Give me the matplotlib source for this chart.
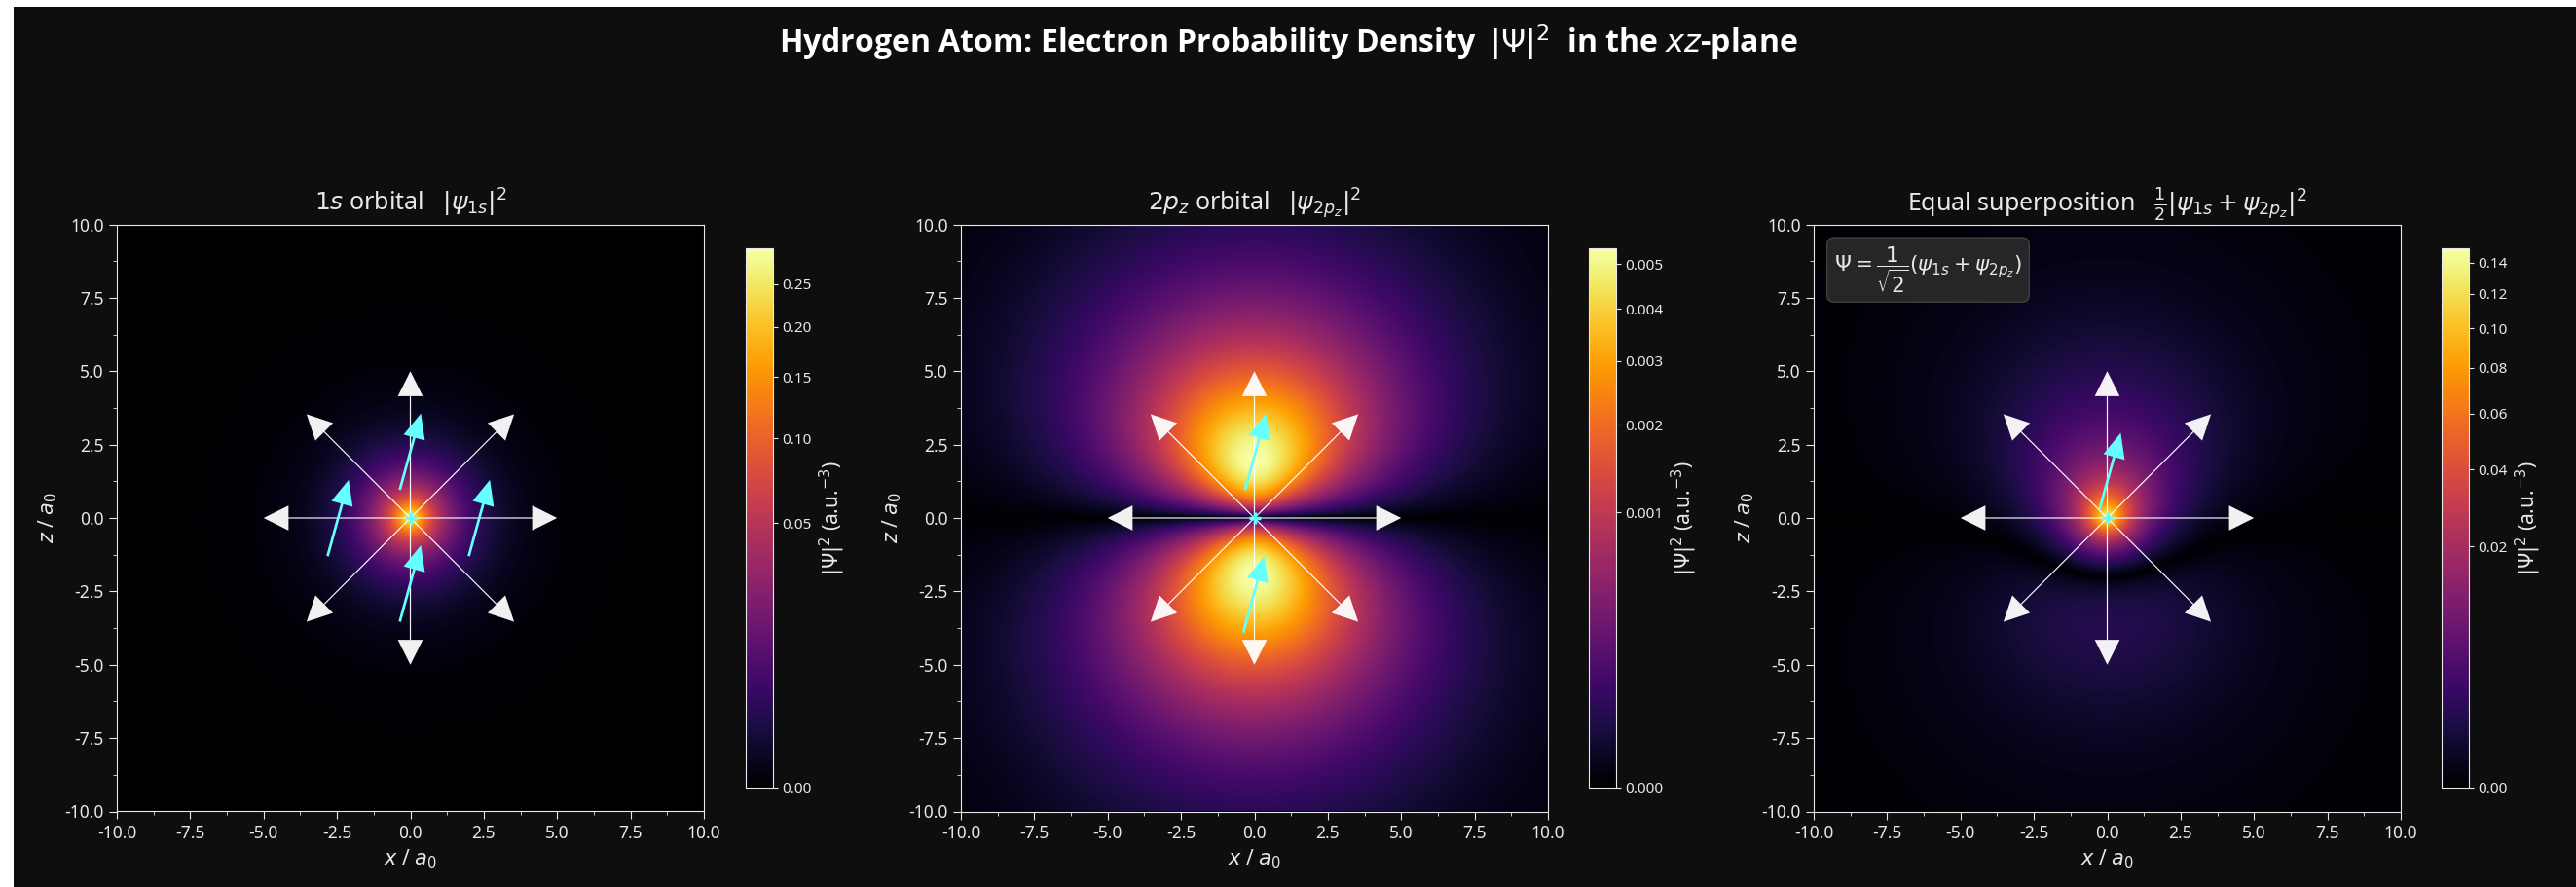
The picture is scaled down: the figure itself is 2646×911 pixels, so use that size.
import numpy as np
import matplotlib
matplotlib.use("Agg")
import matplotlib.pyplot as plt
from matplotlib.colors import PowerNorm
from matplotlib.ticker import MultipleLocator, AutoMinorLocator
from matplotlib.patches import Rectangle

plt.rcParams['font.family'] = ['Noto Sans', 'DejaVu Sans']
plt.rcParams['axes.unicode_minus'] = False

# grid in Bohr radii (xz-plane, y = 0)
extent = [-10.0, 10.0, -10.0, 10.0]
n_grid = 400

# radial "direction" arrows drawn from the nucleus
arrow_angles_deg = [0, 45, 90, 135, 180, 225, 270, 315]
arrow_length = 5.0

# cyan arrows: centres per panel and the common vector
cyan_1s = [(0.0, 2.26), (-2.46, 0.0), (2.35, 0.0), (0.0, -2.23)]
cyan_2pz = [(0.04, 2.25), (-0.02, -2.6)]
cyan_sup = [(0.1, 1.6)]
cyan_vec = (0.72, 2.6)

titles = [r'$1s$ orbital   $|\psi_{1s}|^2$',
          r'$2p_z$ orbital   $|\psi_{2p_z}|^2$',
          r'Equal superposition   $\frac{1}{2}|\psi_{1s} + \psi_{2p_z}|^2$']
gamma = 0.4

# wavefunctions (atomic units)
x = np.linspace(extent[0], extent[1], n_grid)
z = np.linspace(extent[2], extent[3], n_grid)
X, Z = np.meshgrid(x, z)
R = np.sqrt(X**2 + Z**2)
psi_1s = np.exp(-R) / np.sqrt(np.pi)
psi_2pz = Z * np.exp(-R / 2) / (4 * np.sqrt(2 * np.pi))
dens = [psi_1s**2, psi_2pz**2, 0.5 * (psi_1s + psi_2pz)**2]
cyan_sets = [cyan_1s, cyan_2pz, cyan_sup]

bg = '#0e0e0e'
fg = '#e8e8e8'
W, H = 2646, 911
fig = plt.figure(figsize=(W / 100, H / 100), dpi=100, facecolor='white')
fig.patches.append(Rectangle((14 / W, 0), 1, 1 - 7 / H, transform=fig.transFigure,
                             facecolor=bg, edgecolor='none', zorder=-10))

ax_left = [120, 987, 1863]
cb_left = [766, 1632, 2508]

for i in range(3):
    ax = fig.add_axes([ax_left[i] / W, 77 / H, 603 / W, 604 / H])
    cax = fig.add_axes([cb_left[i] / W, 102 / H, 28 / W, 554 / H])
    ax.set_facecolor('black')
    im = ax.imshow(dens[i], extent=extent, origin='lower', cmap='inferno',
                   norm=PowerNorm(gamma, vmin=0, vmax=dens[i].max()),
                   interpolation='bilinear')

    for a in arrow_angles_deg:
        t = np.deg2rad(a)
        ax.arrow(0, 0, arrow_length * np.cos(t), arrow_length * np.sin(t),
                 width=0.04, head_width=0.85, head_length=0.85,
                 length_includes_head=True, fc='white', ec='none', alpha=0.95, zorder=3)

    for cx, cz in cyan_sets[i]:
        ax.arrow(cx - cyan_vec[0] / 2, cz - cyan_vec[1] / 2, cyan_vec[0], cyan_vec[1],
                 width=0.09, head_width=0.75, head_length=0.85,
                 length_includes_head=True, fc='#66ffff', ec='none', zorder=4)
    ax.plot(0, 0, marker='+', color='#66ffff', ms=9, mew=2.5, zorder=5)

    ax.set_xlim(extent[0], extent[1])
    ax.set_ylim(extent[2], extent[3])
    ax.xaxis.set_major_locator(MultipleLocator(2.5))
    ax.yaxis.set_major_locator(MultipleLocator(2.5))
    ax.xaxis.set_minor_locator(AutoMinorLocator(2))
    ax.yaxis.set_minor_locator(AutoMinorLocator(2))
    ax.tick_params(colors=fg, labelsize=12.5, which='both')
    ax.tick_params(which='major', length=6)
    ax.tick_params(which='minor', length=3)
    for s in ax.spines.values():
        s.set_color(fg)
    ax.set_xlabel(r'$x$ / $a_0$', color=fg, fontsize=15)
    ax.set_ylabel(r'$z$ / $a_0$', color=fg, fontsize=15)
    ax.set_title(titles[i], color=fg, fontsize=18, pad=10)

    cb = fig.colorbar(im, cax=cax)
    cb.outline.set_edgecolor(fg)
    cb.ax.tick_params(colors=fg, labelsize=11)
    cb.set_label(r'$|\Psi|^2$ (a.u.$^{-3}$)', color=fg, fontsize=15)

    if i == 2:
        ax.text(-9.3, 9.3, r'$\Psi = \dfrac{1}{\sqrt{2}}(\psi_{1s} + \psi_{2p_z})$',
                color=fg, fontsize=15.5, va='top', ha='left', zorder=6,
                bbox=dict(boxstyle='round,pad=0.35', fc='#2b2b2b', ec='#444444', alpha=0.9))

fig.suptitle(r'Hydrogen Atom: Electron Probability Density  $|\Psi|^2$  in the $xz$-plane',
             color='white', fontsize=23, fontweight='bold', va='center', y=0.952,
             family=['Open Sans', 'Noto Sans', 'DejaVu Sans'])

fig.savefig('out.png', dpi=100, facecolor=fig.get_facecolor())
